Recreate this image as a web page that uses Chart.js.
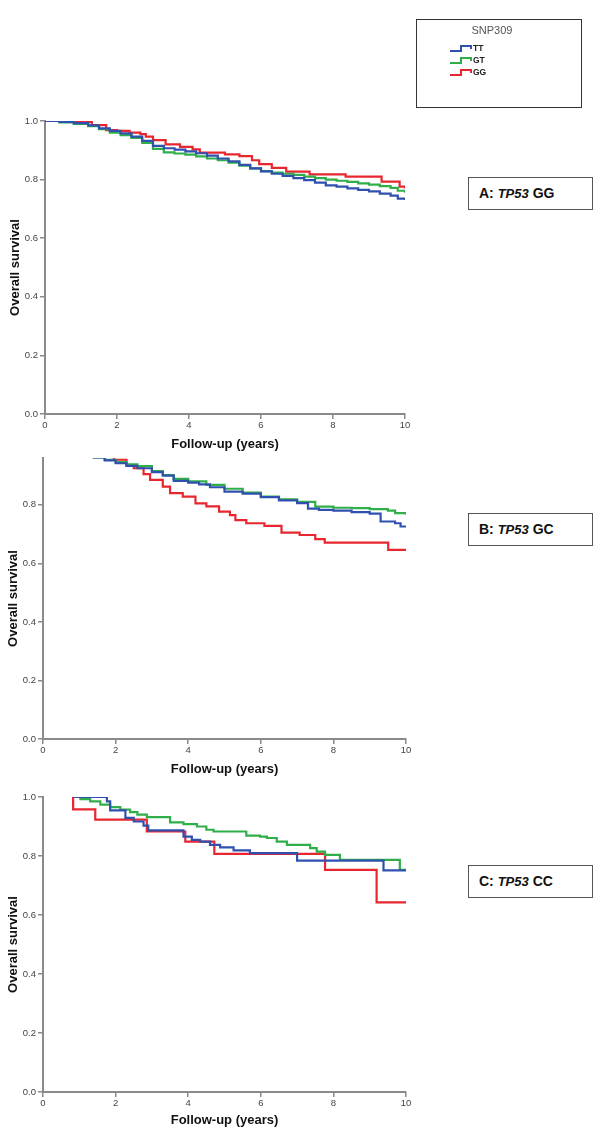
<!DOCTYPE html>
<html>
<head>
<meta charset="utf-8">
<script src="https://cdn.jsdelivr.net/npm/chart.js@4/dist/chart.umd.min.js"></script>
<style>
  html, body { margin: 0; padding: 0; background: #fff; }
  body { width: 600px; height: 1140px; position: relative; overflow: hidden; font-family: "Liberation Sans", Arial, sans-serif; }
  .cv { position: absolute; }
  .legend { position: absolute; left: 416px; top: 19px; width: 166px; height: 89px; border: 1px solid #333; box-sizing: border-box; }
  .legend .title { position: absolute; left: 0; width: 150px; top: 4px; text-align: center; font-size: 11px; color: #555; }
  .legend .item { position: absolute; left: 56px; font-size: 8.5px; font-weight: bold; color: #222; line-height: 10px; }
  .legend svg { position: absolute; left: 0; top: 0; }
  .lab { position: absolute; left: 468px; width: 125px; height: 33px; border: 1px solid #555; box-sizing: border-box; font-size: 14px; font-weight: bold; color: #111; line-height: 31px; padding-left: 10px; }
  .lab i { font-size: 13px; }
</style>
</head>
<body>
<canvas id="cA" class="cv" width="420" height="360" style="left:0;top:100px;width:420px;height:360px"></canvas>
<canvas id="cB" class="cv" width="420" height="330" style="left:0;top:450px;width:420px;height:330px"></canvas>
<canvas id="cC" class="cv" width="420" height="355" style="left:0;top:785px;width:420px;height:355px"></canvas>

<div class="legend">
  <div class="title">SNP309</div>
  <svg width="166" height="89">
    <polyline points="33,31 44,31 44,26 54,26 54,29" fill="none" stroke="#3050b0" stroke-width="2"/>
    <polyline points="33,43 44,43 44,38 54,38 54,41" fill="none" stroke="#2fae4a" stroke-width="2"/>
    <polyline points="33,55 44,55 44,50 54,50 54,53" fill="none" stroke="#e8262f" stroke-width="2"/>
  </svg>
  <div class="item" style="top:23px">TT</div>
  <div class="item" style="top:35px">GT</div>
  <div class="item" style="top:47px">GG</div>
</div>

<div class="lab" style="top:177px">A: <i>TP53</i> GG</div>
<div class="lab" style="top:513px">B: <i>TP53</i> GC</div>
<div class="lab" style="top:865px">C: <i>TP53</i> CC</div>

<script>
// ---------- Data (time in years, survival proportion) ----------
const groups = ['TT', 'GT', 'GG'];
const xTicks = [0, 2, 4, 6, 8, 10];
const yTicksFull = [0, 0.2, 0.4, 0.6, 0.8, 1.0];
const yTicksB = [0, 0.2, 0.4, 0.6, 0.8];

// Panel A: TP53 GG
const A_TT_t = [0, 0.4, 0.8, 1.2, 1.5, 1.8, 2.1, 2.4, 2.7, 3.0, 3.3, 3.6, 3.9, 4.2, 4.5, 4.8, 5.1, 5.4, 5.7, 6.0, 6.3, 6.6, 6.9, 7.2, 7.5, 7.8, 8.1, 8.4, 8.7, 9.0, 9.3, 9.6, 9.8, 10.0];
const A_TT_s = [1.0, 0.997, 0.993, 0.985, 0.975, 0.966, 0.958, 0.947, 0.932, 0.915, 0.907, 0.902, 0.896, 0.89, 0.882, 0.872, 0.862, 0.85, 0.838, 0.828, 0.82, 0.813, 0.805, 0.798, 0.79, 0.78, 0.776, 0.77, 0.765, 0.76, 0.752, 0.745, 0.735, 0.73];
const A_GT_t = [0, 0.4, 0.8, 1.2, 1.5, 1.8, 2.1, 2.4, 2.7, 3.0, 3.3, 3.6, 3.9, 4.2, 4.5, 4.8, 5.1, 5.4, 5.7, 6.0, 6.3, 6.6, 6.9, 7.2, 7.5, 7.8, 8.1, 8.4, 8.7, 9.0, 9.3, 9.6, 9.8, 10.0];
const A_GT_s = [1.0, 0.995, 0.99, 0.982, 0.972, 0.96, 0.952, 0.942, 0.925, 0.905, 0.893, 0.889, 0.885, 0.879, 0.872, 0.866, 0.858, 0.848, 0.838, 0.829, 0.824, 0.82, 0.816, 0.81, 0.805, 0.8, 0.796, 0.792, 0.787, 0.783, 0.778, 0.772, 0.762, 0.755];
const A_GG_t = [0, 0.8, 1.3, 1.7, 2.0, 2.35, 2.65, 2.8, 3.0, 3.35, 3.75, 4.1, 4.3, 5.0, 5.4, 5.75, 5.95, 6.3, 6.7, 7.35, 8.35, 9.35, 9.85, 10.0];
const A_GG_s = [1.0, 0.997, 0.986, 0.969, 0.966, 0.96, 0.955, 0.947, 0.935, 0.92, 0.912, 0.903, 0.892, 0.886, 0.88, 0.866, 0.853, 0.84, 0.827, 0.818, 0.81, 0.793, 0.776, 0.77];

// Panel B: TP53 GC
const B_TT_t = [0, 0.6, 1.0, 1.4, 1.7, 2.0, 2.3, 2.6, 3.0, 3.3, 3.6, 4.0, 4.3, 4.6, 5.0, 5.5, 6.0, 6.5, 7.0, 7.3, 7.6, 8.0, 8.5, 9.0, 9.3, 9.7, 9.85, 10.0];
const B_TT_s = [1.0, 0.99, 0.978, 0.962, 0.952, 0.942, 0.933, 0.925, 0.912, 0.9, 0.882, 0.876, 0.87, 0.86, 0.845, 0.838, 0.826, 0.815, 0.806, 0.787, 0.783, 0.78, 0.775, 0.77, 0.743, 0.737, 0.726, 0.723];
const B_GT_t = [0, 0.6, 1.0, 1.4, 1.7, 2.0, 2.3, 2.6, 3.0, 3.3, 3.6, 4.0, 4.5, 5.0, 5.5, 6.0, 6.5, 7.0, 7.5, 8.0, 8.5, 9.0, 9.5, 9.7, 10.0];
const B_GT_s = [1.0, 0.99, 0.978, 0.962, 0.954, 0.946, 0.938, 0.932, 0.915, 0.902, 0.889, 0.88, 0.868, 0.855, 0.842, 0.828, 0.819, 0.81, 0.794, 0.79, 0.789, 0.785, 0.78, 0.772, 0.766];
const B_GG_t = [0, 0.6, 1.0, 1.5, 1.95, 2.3, 2.5, 2.77, 2.95, 3.3, 3.5, 3.85, 4.2, 4.5, 4.85, 5.15, 5.3, 5.6, 6.1, 6.57, 7.07, 7.5, 7.76, 9.51, 10.0];
const B_GG_s = [1.0, 0.99, 0.98, 0.968, 0.954, 0.935, 0.925, 0.905, 0.885, 0.862, 0.84, 0.828, 0.805, 0.795, 0.777, 0.765, 0.748, 0.737, 0.728, 0.705, 0.697, 0.683, 0.671, 0.646, 0.646];

// Panel C: TP53 CC
const C_TT_t = [0.83, 1.76, 1.85, 2.27, 2.5, 2.77, 2.9, 3.87, 4.1, 4.33, 4.6, 4.88, 5.25, 5.7, 7.0, 9.38, 10.0];
const C_TT_s = [1.0, 0.985, 0.955, 0.929, 0.917, 0.903, 0.887, 0.866, 0.855, 0.849, 0.838, 0.829, 0.819, 0.81, 0.784, 0.751, 0.751];
const C_GT_t = [0.83, 1.03, 1.3, 1.58, 1.85, 2.13, 2.4, 2.6, 2.86, 3.5, 3.87, 4.24, 4.5, 4.7, 5.6, 5.98, 6.17, 6.44, 6.72, 7.36, 7.54, 7.77, 8.18, 9.83, 10.0];
const C_GT_s = [1.0, 0.993, 0.985, 0.974, 0.966, 0.957, 0.949, 0.94, 0.932, 0.914, 0.908, 0.9, 0.889, 0.883, 0.869, 0.866, 0.861, 0.849, 0.838, 0.827, 0.815, 0.804, 0.787, 0.753, 0.753];
const C_GG_t = [0.83, 0.83, 1.44, 2.86, 3.92, 4.72, 7.77, 9.19, 10.0];
const C_GG_s = [1.0, 0.958, 0.923, 0.883, 0.849, 0.807, 0.753, 0.643, 0.643];

// ---------- Styling ----------
const colors = { TT: '#3050b0', GT: '#2fae4a', GG: '#e8262f' };
const axisColor = '#8a8a8a';

function pts(t, s) { return t.map((v, i) => ({ x: v, y: s[i] })); }

function makeChart(id, series, cfg) {
  const datasets = groups.map((g, i) => ({
    label: g,
    data: pts(series[i][0], series[i][1]),
    borderColor: colors[g],
    borderWidth: 2.2,
    stepped: true,
    pointRadius: 0,
    fill: false,
    tension: 0
  }));
  return new Chart(document.getElementById(id), {
    type: 'line',
    data: { datasets },
    options: {
      responsive: false,
      animation: false,
      layout: { padding: { left: 0, right: cfg.padRight, top: cfg.padTop, bottom: 0 } },
      plugins: { legend: { display: false }, tooltip: { enabled: false } },
      scales: {
        x: {
          type: 'linear', min: 0, max: 10,
          afterBuildTicks: (s) => { s.ticks = xTicks.map(v => ({ value: v })); },
          afterFit: (s) => { s.height = cfg.xH; },
          grid: { drawOnChartArea: false, drawTicks: true, tickLength: 5, color: axisColor, lineWidth: 1.5 },
          border: { display: true, color: axisColor, width: 2 },
          ticks: { color: '#444', font: { size: 9.5, family: 'Liberation Sans' }, padding: 1, maxRotation: 0, autoSkip: false },
          title: { display: true, text: 'Follow-up (years)', color: '#111', font: { size: 13, weight: 'bold', family: 'Liberation Sans' }, padding: { top: 0, bottom: cfg.xTitlePad } }
        },
        y: {
          type: 'linear', min: 0, max: cfg.yMax,
          afterBuildTicks: (s) => { s.ticks = cfg.yTicks.map(v => ({ value: v })); },
          afterFit: (s) => { s.width = cfg.yW; },
          grid: { drawOnChartArea: false, drawTicks: true, tickLength: 5, color: axisColor, lineWidth: 1.5 },
          border: { display: true, color: axisColor, width: 2 },
          ticks: { color: '#444', font: { size: 9.5, family: 'Liberation Sans' }, padding: 2, callback: (v) => Number(v).toFixed(1) },
          title: { display: true, text: 'Overall survival', color: '#111', font: { size: 13, weight: 'bold', family: 'Liberation Sans' }, padding: { top: cfg.yTitlePad, bottom: 0 } }
        }
      }
    }
  });
}

makeChart('cA', [[A_TT_t, A_TT_s], [A_GT_t, A_GT_s], [A_GG_t, A_GG_s]],
  { padRight: 15, padTop: 21, xH: 46, yW: 45, yMax: 1.0, yTicks: yTicksFull, xTitlePad: 8, yTitlePad: 8 });
makeChart('cB', [[B_TT_t, B_TT_s], [B_GT_t, B_GT_s], [B_GG_t, B_GG_s]],
  { padRight: 14, padTop: 8, xH: 41, yW: 43, yMax: 0.96, yTicks: yTicksB, xTitlePad: 3, yTitlePad: 6 });
makeChart('cC', [[C_TT_t, C_TT_s], [C_GT_t, C_GT_s], [C_GG_t, C_GG_s]],
  { padRight: 14, padTop: 12, xH: 48, yW: 43, yMax: 1.0, yTicks: yTicksFull, xTitlePad: 12, yTitlePad: 6 });
</script>
</body>
</html>
